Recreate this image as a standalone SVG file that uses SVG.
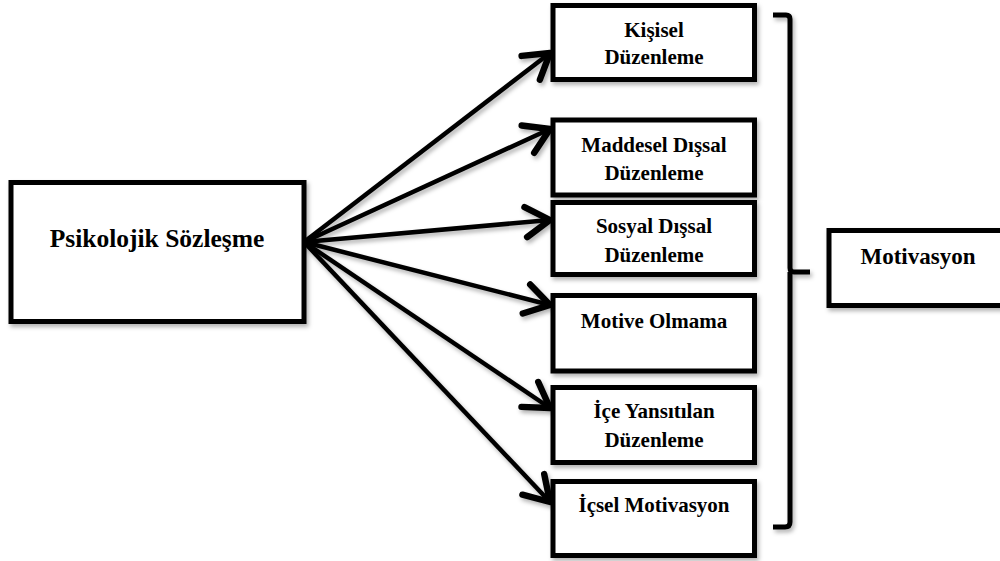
<svg xmlns="http://www.w3.org/2000/svg" width="1000" height="561" viewBox="0 0 1000 561">
<style>
.box{fill:#fff;stroke:#000;stroke-width:5;filter:url(#sh)}
.t{font-family:"Liberation Serif","Times New Roman",serif;font-weight:bold;fill:#000;text-anchor:middle}
.s{font-size:21px}
.conn line{stroke:#000;stroke-width:4.5;marker-end:url(#ah)}
</style>
<defs>
<filter id="sh" x="-10%" y="-10%" width="130%" height="130%">
<feDropShadow dx="2" dy="3" stdDeviation="2" flood-color="#000" flood-opacity="0.3"/>
</filter>
<marker id="ah" markerUnits="userSpaceOnUse" markerWidth="40" markerHeight="40" viewBox="-22 -14 26 28" refX="0" refY="0" orient="auto">
<path d="M-17,-10.5 L0,0 L-17,10.5" fill="none" stroke="#000" stroke-width="4.5" stroke-linecap="round" stroke-linejoin="round"/>
</marker>
</defs>

<g id="connectors" class="conn" filter="url(#sh)">
<line x1="304" y1="242" x2="550" y2="53"/>
<line x1="304" y1="242" x2="550" y2="129"/>
<line x1="304" y1="242" x2="550" y2="220"/>
<line x1="304" y1="242" x2="550" y2="305"/>
<line x1="304" y1="242" x2="550" y2="408"/>
<line x1="304" y1="242" x2="550" y2="502"/>
</g>

<g id="psikolojik">
<rect class="box" x="11" y="182.5" width="293" height="139"/>
<text class="t" x="157" y="247" font-size="25.5">Psikolojik Sözleşme</text>
</g>

<g id="kisisel">
<rect class="box" x="553" y="5.5" width="201.5" height="74"/>
<text class="t s" x="654" y="37">Kişisel</text>
<text class="t s" x="654" y="64">Düzenleme</text>
</g>

<g id="maddesel">
<rect class="box" x="553" y="120" width="201.5" height="75"/>
<text class="t s" x="654" y="152">Maddesel Dışsal</text>
<text class="t s" x="654" y="180">Düzenleme</text>
</g>

<g id="sosyal">
<rect class="box" x="553" y="202.5" width="201.5" height="72"/>
<text class="t s" x="654" y="233">Sosyal Dışsal</text>
<text class="t s" x="654" y="262">Düzenleme</text>
</g>

<g id="motive">
<rect class="box" x="553" y="295.5" width="201.5" height="75.5"/>
<text class="t s" x="654" y="328">Motive Olmama</text>
</g>

<g id="ice">
<rect class="box" x="553" y="387.5" width="201.5" height="75"/>
<text class="t s" x="654" y="418">İçe Yansıtılan</text>
<text class="t s" x="654" y="447">Düzenleme</text>
</g>

<g id="icsel">
<rect class="box" x="553" y="481.5" width="201.5" height="74"/>
<text class="t s" x="654" y="512">İçsel Motivasyon</text>
</g>

<g id="bracket">
<path d="M773,15 L786,15 Q790,15 790,19 L790,268 Q790,272 794,272 L810,272 M790,272 L790,522 Q790,527 785,527 L773,527" fill="none" stroke="#000" stroke-width="5" filter="url(#sh)"/>
</g>

<g id="motivasyon">
<rect class="box" x="829" y="230.5" width="180" height="75"/>
<text class="t" x="918" y="264" font-size="23">Motivasyon</text>
</g>
</svg>
